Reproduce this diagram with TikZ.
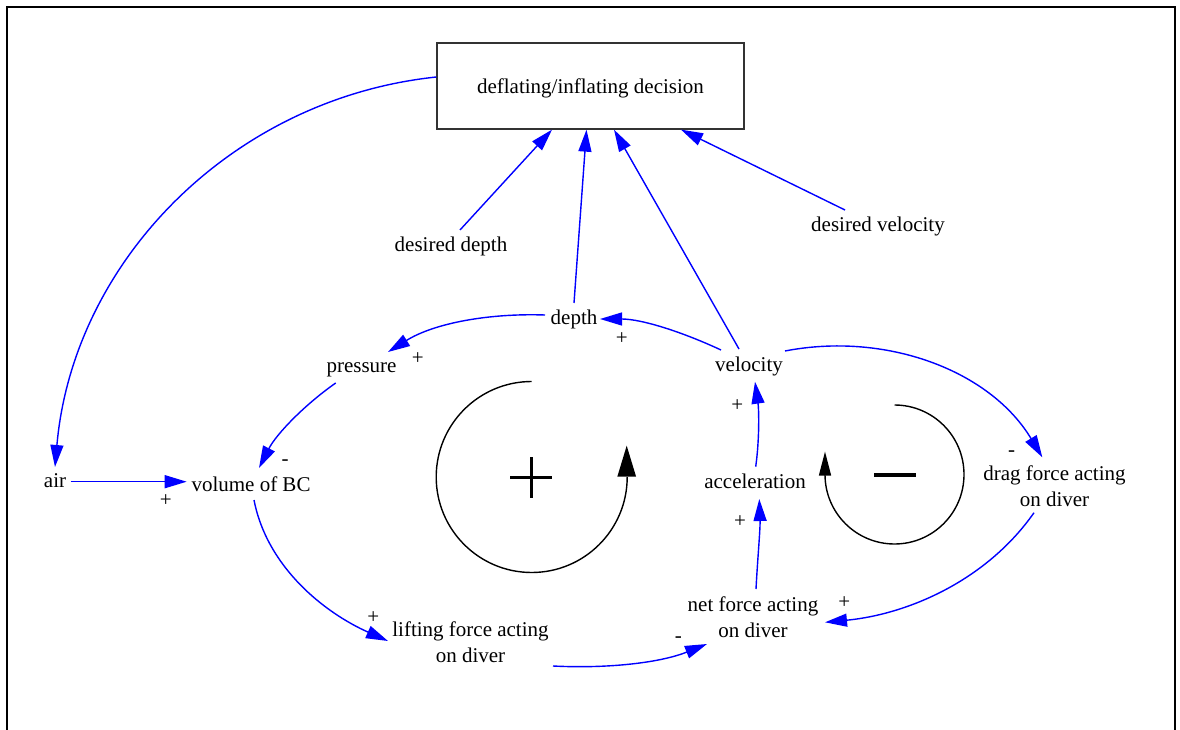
\documentclass[tikz,border=0pt]{standalone}
\usepackage{fontspec}
\setmainfont{Liberation Serif}
\usetikzlibrary{arrows.meta}

\begin{document}
\begin{tikzpicture}[x=1pt,y=1pt,
  lbl/.style={font=\fontsize{21}{26}\selectfont, inner sep=0pt, anchor=base, align=center},
  sgn/.style={font=\fontsize{21}{26}\selectfont, inner sep=0pt, anchor=base},
  decbox/.style={draw=black!80, line width=1.3pt, minimum width=307pt, minimum height=86pt,
                 inner sep=0pt, text height=14.6pt, text depth=0pt,
                 font=\fontsize{21}{26}\selectfont},
  link/.style={draw=blue, line width=1.4pt, -{Triangle[length=22pt,width=13pt]}},
  loopline/.style={draw=black, line width=1.4pt},
]
\useasboundingbox (0,0) rectangle (1180,729);

% outer frame (open at the bottom edge of the page)
\draw[line width=2pt] (7,-5) -- (7,722) -- (1175,722) -- (1175,-5);

% variables (two-line labels are anchored at the baseline of their last line)
\node[decbox] (dec) at (590.5,643) {deflating/inflating decision};
\node[lbl] (desdepth) at (451,477)    {desired depth};
\node[lbl] (desvel)   at (878,497.3)  {desired velocity};
\node[lbl] (depth)    at (574,404)    {depth};
\node[lbl] (pressure) at (361.5,356)  {pressure};
\node[lbl] (velocity) at (749,357.3)  {velocity};
\node[lbl] (air)      at (55,242)     {air};
\node[lbl] (volume)   at (251,238)    {volume of BC};
\node[lbl] (accel)    at (755,241)    {acceleration};
\node[lbl] (drag)     at (1054.5,223) {drag force acting\\on diver};
\node[lbl] (netf)     at (753,91.3)   {net force acting\\on diver};
\node[lbl] (lift)     at (470.5,67)   {lifting force acting\\on diver};

% causal links
\draw[link] ([yshift=9pt]dec.west) .. controls +(186:206) and +(85:206) .. ([yshift=20pt]air.base);
\draw[link] ([xshift=9pt,yshift=22pt]desdepth.base) -- ([xshift=-38.5pt]dec.south);
\draw[link] ([yshift=22pt]depth.base) -- ([xshift=-4pt]dec.south);
\draw[link] ([xshift=-10pt,yshift=22.7pt]velocity.base) -- ([xshift=23.5pt]dec.south);
\draw[link] ([xshift=-33pt,yshift=21.7pt]desvel.base) -- ([xshift=90.5pt]dec.south);
\draw[link] ([xshift=-29pt,yshift=10pt]depth.base) .. controls +(178:55) and +(32:55) .. ([xshift=26.5pt,yshift=21pt]pressure.base);
\draw[link] ([xshift=-28pt,yshift=21.7pt]velocity.base) .. controls +(155:42) and +(0:42) .. ([xshift=26pt,yshift=6pt]depth.base);
\draw[link] ([xshift=-25.8pt,yshift=-10pt]pressure.base) .. controls +(215:38) and +(63:38) .. ([xshift=8pt,yshift=23pt]volume.base);
\draw[link] ([xshift=15.7pt,yshift=5.3pt]air.base) -- ([xshift=-64.3pt,yshift=9.3pt]volume.base);
\draw[link] ([xshift=3pt,yshift=-9pt]volume.base) .. controls +(281:69) and +(156:69) .. ([xshift=-82.5pt,yshift=21pt]lift.base);
\draw[link] ([xshift=82.5pt,yshift=-4pt]lift.base) .. controls +(-3:52) and +(201.8:52) .. ([xshift=-46pt,yshift=-6.3pt]netf.base);
\draw[link] ([xshift=3pt,yshift=48.7pt]netf.base) .. controls +(87:30) and +(-88:30) .. ([xshift=4.3pt,yshift=-11pt]accel.base);
\draw[link] ([xshift=0.7pt,yshift=21.3pt]accel.base) .. controls +(82:28) and +(-82:28) .. ([xshift=6pt,yshift=-10pt]velocity.base);
\draw[link] ([xshift=36pt,yshift=20.7pt]velocity.base) .. controls +(11:102) and +(121:102) .. ([xshift=-12.2pt,yshift=48.7pt]drag.base);
\draw[link] ([xshift=-20.5pt,yshift=-6.7pt]drag.base) .. controls +(235:83) and +(5.5:83) .. ([xshift=72pt,yshift=15.4pt]netf.base);

% link polarities
\node[sgn] (s1)  at (165.7,222.3) {+};
\node[sgn] (s2)  at (285,264)     {-};
\node[sgn] (s3)  at (373.3,105.7) {+};
\node[sgn] (s4)  at (417.7,364.7) {+};
\node[sgn] (s5)  at (621.7,384)   {+};
\node[sgn] (s6)  at (737.3,317.3) {+};
\node[sgn] (s7)  at (1011.7,273)  {-};
\node[sgn] (s8)  at (740,201.3)   {+};
\node[sgn] (s9)  at (844.3,120.7) {+};
\node[sgn] (s10) at (678.3,86.7)  {-};

% reinforcing loop marker
\draw[loopline] (531.7,347.5) arc[start angle=90, end angle=360, radius=95.5];
\fill (617.3,252.3) -- (636.1,252.3) -- (626.7,283.3) -- cycle;
\draw[line width=3pt] (510,251.5) -- (552,251.5);
\draw[line width=3pt] (531,272) -- (531,231);

% balancing loop marker
\draw[loopline] (894.5,324) arc[start angle=90, end angle=-180, radius=69.5];
\fill (818.8,253.5) -- (831.2,253.5) -- (825,277.3) -- cycle;
\draw[line width=4pt] (874,254) -- (916,254);
\end{tikzpicture}
\end{document}
